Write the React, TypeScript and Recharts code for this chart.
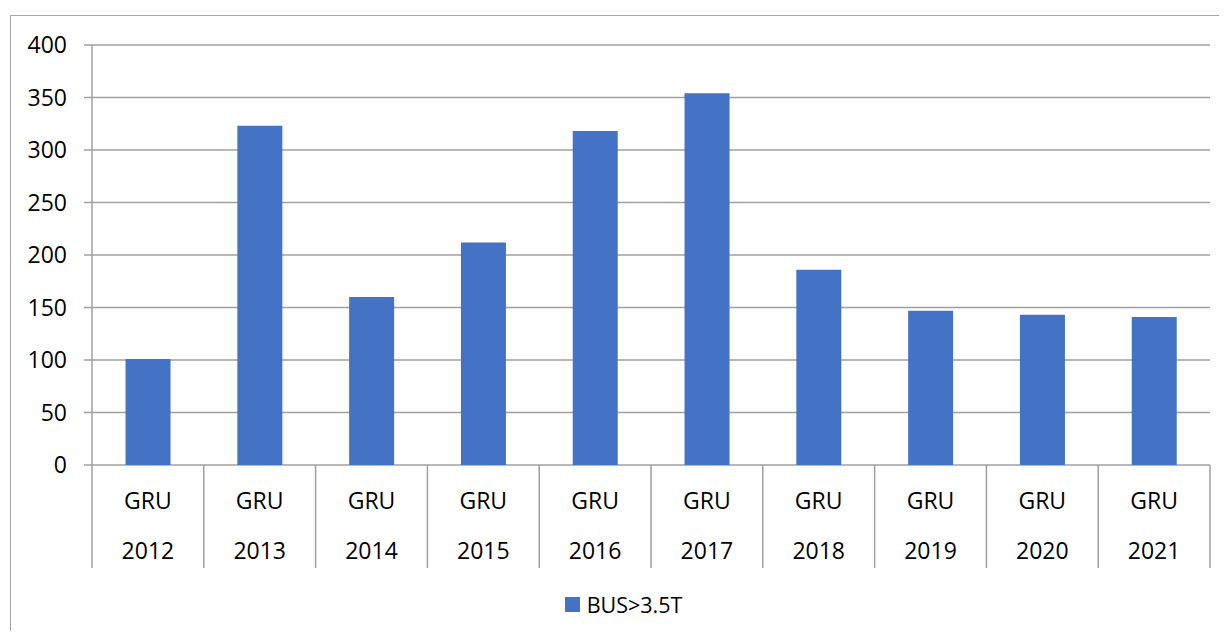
import React from 'react';
import { BarChart, Bar, CartesianGrid, XAxis, YAxis, Legend } from 'recharts';

const places = ['GRU', 'GRU', 'GRU', 'GRU', 'GRU', 'GRU', 'GRU', 'GRU', 'GRU', 'GRU'];
const years = ['2012', '2013', '2014', '2015', '2016', '2017', '2018', '2019', '2020', '2021'];
const busValues = [101, 323, 160, 212, 318, 354, 186, 147, 143, 141];
const yTicks = [0, 50, 100, 150, 200, 250, 300, 350, 400];

const data = years.map((year, i) => ({ key: `${places[i]} ${year}`, place: places[i], year, bus: busValues[i] }));

const FONT = '"Open Sans", sans-serif';
const GRID = '#a0a0a0';
const BLUE = '#4472C4';

const CategoryTick = ({ x, y, payload, index }: any) => {
  const row = data[index];
  const half = payload.offset || 0;
  return (
    <g>
      <line x1={x - half} y1={y} x2={x - half} y2={y + 103} stroke={GRID} strokeWidth={1.5} />
      {index === data.length - 1 && (
        <line x1={x + half} y1={y} x2={x + half} y2={y + 103} stroke={GRID} strokeWidth={1.5} />
      )}
      <text x={x} y={y + 35} textAnchor="middle" dominantBaseline="central" fill="#000" fontSize={23} fontFamily={FONT}>
        {row.place}
      </text>
      <text x={x} y={y + 85} textAnchor="middle" dominantBaseline="central" fill="#000" fontSize={23} fontFamily={FONT}>
        {row.year}
      </text>
    </g>
  );
};

const LegendContent = () => (
  <div style={{ display: 'flex', justifyContent: 'center', alignItems: 'center', fontFamily: FONT, fontSize: 21.5, color: '#000', paddingLeft: 20 }}>
    <span style={{ width: 15, height: 15, background: BLUE, display: 'inline-block', marginRight: 7 }} />
    <span>BUS&gt;3.5T</span>
  </div>
);

const App = () => {
  return (
    <div style={{ position: 'relative', width: 1227, height: 639, margin: -8, background: '#fff', overflow: 'hidden' }}>
      <div style={{ position: 'absolute', left: 10, top: 15, width: 1240, height: 700, borderTop: '1.5px solid #a6a6a6', borderLeft: '1.5px solid #a6a6a6', boxSizing: 'border-box' }} />
      <BarChart
        width={1227}
        height={639}
        data={data}
        margin={{ top: 45, right: 17, left: 12, bottom: 71 }}
        barCategoryGap="30%"
        style={{ position: 'absolute', left: 0, top: 0 }}
      >
        <CartesianGrid vertical={false} stroke={GRID} strokeWidth={1.5} />
        <XAxis
          dataKey="key"
          axisLine={false}
          tickLine={false}
          tickSize={0}
          tickMargin={0}
          height={103}
          interval={0}
          tick={<CategoryTick />}
        />
        <YAxis
          domain={[0, 400]}
          ticks={yTicks}
          width={80}
          axisLine={{ stroke: GRID, strokeWidth: 1.5 }}
          tickLine={{ stroke: GRID, strokeWidth: 1.5 }}
          tickSize={8}
          tickMargin={17}
          tick={{ fill: '#000', fontSize: 23, fontFamily: FONT }}
        />
        <Legend
          layout="horizontal"
          verticalAlign="middle"
          align="center"
          content={<LegendContent />}
          wrapperStyle={{ top: 590, left: 0, width: 1227 }}
        />
        <Bar dataKey="bus" name="BUS>3.5T" fill={BLUE} isAnimationActive={false} />
      </BarChart>
    </div>
  );
};

export default App;
